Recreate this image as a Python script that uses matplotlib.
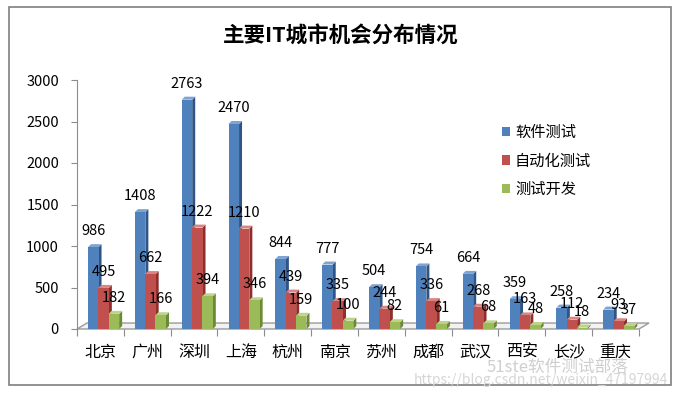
import matplotlib
matplotlib.use("Agg")
import matplotlib.pyplot as plt
from matplotlib.patches import Polygon, Rectangle, Patch

plt.rcParams['font.family'] = ['Noto Sans CJK SC', 'DejaVu Sans']

# data
cities = ["北京", "广州", "深圳", "上海", "杭州", "南京", "苏州", "成都", "武汉", "西安", "长沙", "重庆"]
software_test = [986, 1408, 2763, 2470, 844, 777, 504, 754, 664, 359, 258, 234]
auto_test = [495, 662, 1222, 1210, 439, 335, 244, 336, 268, 163, 112, 93]
test_dev = [182, 166, 394, 346, 159, 100, 82, 61, 68, 48, 18, 37]
series_names = ["软件测试", "自动化测试", "测试开发"]
yticks = [0, 500, 1000, 1500, 2000, 2500, 3000]

front_colors = ["#4F81BD", "#C0504D", "#9BBB59"]
side_colors = ["#2F5485", "#8E2F2C", "#6C8A35"]
top_colors = ["#7FA3D3", "#D98583", "#BCD38A"]

W, H = 692, 398
fig = plt.figure(figsize=(W / 100, H / 100), dpi=100)
fig.patch.set_facecolor("white")

# outer chart border
fig.add_artist(Rectangle((9 / W, 1 - 385 / H), 662 / W, 378 / H, transform=fig.transFigure,
                         fill=False, edgecolor="#7f7f7f", lw=1.2))

ax = fig.add_axes([77 / W, 1 - 329 / H, 562 / W, 249 / H])
ax.set_xlim(0, len(cities))
ax.set_ylim(0, 3000)
for s in ["top", "right", "bottom"]:
    ax.spines[s].set_visible(False)
ax.spines["left"].set_color("#8c8c8c")

# 3d floor
fdx, fdy = 0.214, 72
ax.add_patch(Polygon([(0, 0), (12, 0), (12 + fdx, fdy), (fdx, fdy)], closed=True,
                     facecolor="#f2f2f2", edgecolor="#9a9a9a", lw=1, clip_on=False, zorder=1))

ax.set_yticks(yticks)
ax.set_yticklabels([str(t) for t in yticks], fontsize=10.5)
ax.tick_params(axis="y", length=4, color="#8c8c8c", pad=9)
ax.set_xticks(range(len(cities) + 1))
ax.set_xticklabels([])
ax.tick_params(axis="x", length=5, color="#8c8c8c")
for i, c in enumerate(cities):
    ax.text(i + 0.5, -280, c, ha="center", va="center", fontsize=11.5)

ddx, ddy = 0.064, 36
bw, step, off = 0.225, 0.22, 0.235
for j, vals in enumerate([software_test, auto_test, test_dev]):
    for i, v in enumerate(vals):
        x0 = i + off + j * step
        x1 = x0 + bw
        ax.add_patch(Polygon([(x1, 0), (x1 + ddx, ddy), (x1 + ddx, v + ddy), (x1, v)], closed=True,
                             facecolor=side_colors[j], edgecolor="none", clip_on=False, zorder=3 + j))
        ax.add_patch(Polygon([(x0, v), (x0 + ddx, v + ddy), (x1 + ddx, v + ddy), (x1, v)], closed=True,
                             facecolor=top_colors[j], edgecolor="none", clip_on=False, zorder=3 + j))
        ax.add_patch(Rectangle((x0, 0), bw, v, facecolor=front_colors[j], edgecolor="none",
                               clip_on=False, zorder=3 + j))
        ax.annotate(str(v), (x0 + bw / 2, v), xytext=(0, 11.5), textcoords="offset points",
                    ha="center", va="center", fontsize=10.5, zorder=10, annotation_clip=False)

handles = [Patch(facecolor=c, edgecolor="none") for c in front_colors]
ax.legend(handles, series_names, loc="upper left", bbox_to_anchor=(502 / W, 1 - 124 / H),
          bbox_transform=fig.transFigure, frameon=False, fontsize=11, handlelength=0.55,
          handleheight=0.55, handletextpad=0.3, labelspacing=0.75, borderpad=0, borderaxespad=0)

fig.text(341 / W, 1 - 36 / H, "主要IT城市机会分布情况", ha="center", va="center",
         fontsize=15.5, fontweight="bold")

# watermark text from the source image
fig.text(487 / W, 1 - 367 / H, "51ste软件测试部落", ha="left", va="center", fontsize=12,
         color="#cfcfcf")
fig.text(414 / W, 1 - 380 / H, "https://blog.csdn.net/weixin_47197994", ha="left", va="center",
         fontsize=10, color="#d6d6d6")

fig.savefig("out.png", dpi=100, facecolor="white")
